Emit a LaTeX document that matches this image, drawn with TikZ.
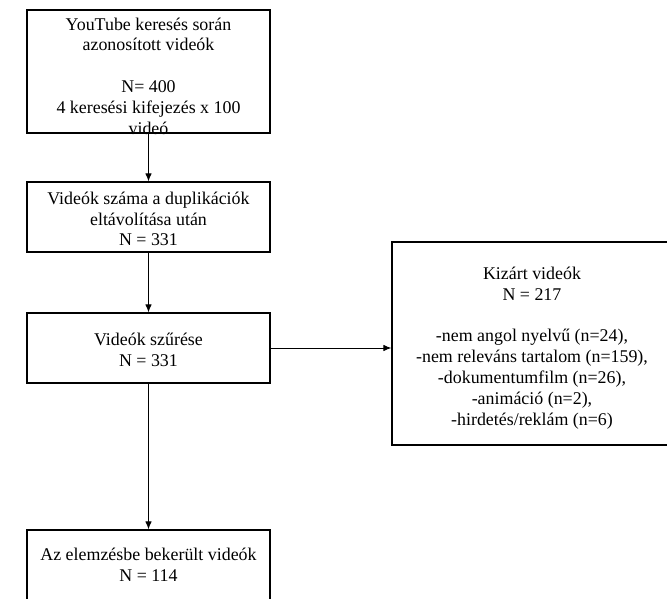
\documentclass[tikz,border=0pt]{standalone}
\usepackage{fontspec}
\setmainfont{Liberation Serif}
\usetikzlibrary{arrows.meta}
\begin{document}
\begin{tikzpicture}[x=1pt,y=-1pt,
  box/.style={draw=black, line width=1.1pt, inner sep=0pt},
  txt/.style={align=center, inner sep=0pt, font=\fontsize{17.9}{20.8}\selectfont},
  flow/.style={draw=black, line width=1pt, -{Latex[length=8pt,width=6.5pt]}}]
  \useasboundingbox (0,0) rectangle (667,599);
  \clip (0,0) rectangle (667,599);

  % boxes of the main column (the last one runs past the bottom margin)
  \node[box, minimum width=243pt, minimum height=123pt] (b1) at (148.5,71.5) {};
  \node[box, minimum width=243pt, minimum height=70pt] (b2) at (148.5,217) {};
  \node[box, minimum width=243pt, minimum height=70pt] (b3) at (148.5,348) {};
  \node[box, minimum width=243pt, minimum height=80pt] (b4) at (148.5,570) {};
  % box of the excluded videos, running past the right margin
  \node[box, minimum width=300pt, minimum height=203pt] (ex) at (542,343.5) {};

  % texts
  \node[txt] (t1) at (148.5,76) {YouTube keresés során\\azonosított videók\\[20.8pt]N= 400\\4 keresési kifejezés x 100\\videó};
  \node[txt] (t2) at (148.5,219) {Videók száma a duplikációk\\eltávolítása után\\N = 331};
  \node[txt] (t3) at (148.5,350) {Videók szűrése\\N = 331};
  \node[txt] (t4) at (148.5,565) {Az elemzésbe bekerült videók\\N = 114};
  \node[txt] (t5) at (532,348) {Kizárt videók\\N = 217\\[20.8pt]-nem angol nyelvű (n=24),\\-nem releváns tartalom (n=159),\\-dokumentumfilm (n=26),\\-animáció (n=2),\\-hirdetés/reklám (n=6)};

  % connectors
  \draw[flow] (b1.south) -- (b2.north);
  \draw[flow] (b2.south) -- (b3.north);
  \draw[flow] (b3.south) -- (b4.north);
  \draw[flow] (b3.east) -- (b3.east -| ex.west);
\end{tikzpicture}
\end{document}
